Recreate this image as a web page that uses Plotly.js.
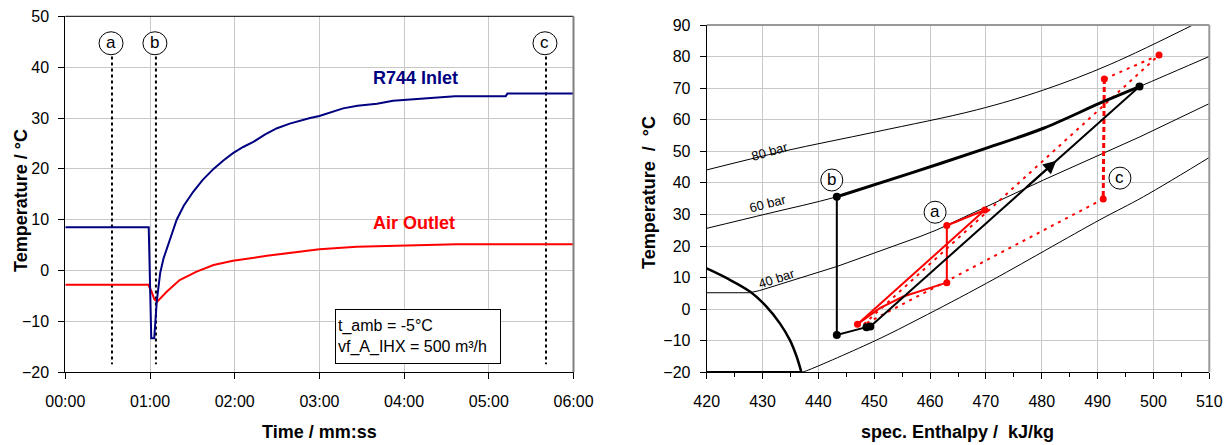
<!DOCTYPE html>
<html><head><meta charset="utf-8">
<script src="https://cdn.plot.ly/plotly-3.0.1.min.js"></script>
<style>html,body{margin:0;padding:0;background:#fff}#chart{width:1231px;height:445px}</style>
</head><body><div id="chart"></div>
<script>
// ---------- Left chart data (time in minutes) ----------
const timeTickVals = [0, 1, 2, 3, 4, 5, 6];
const timeTickText = ['00:00', '01:00', '02:00', '03:00', '04:00', '05:00', '06:00'];
const r744Time = [0, 0.985, 1.015, 1.05, 1.08, 1.12, 1.16, 1.2, 1.25, 1.315, 1.4, 1.51, 1.62, 1.75, 1.87, 1.98, 2.1, 2.22, 2.36, 2.5, 2.65, 2.77, 2.89, 3.0, 3.14, 3.28, 3.45, 3.68, 3.87, 4.05, 4.27, 4.45, 4.6, 5.2, 5.22, 6.0];
const r744Temp = [8.5, 8.5, -13.3, -13.3, -6.0, -0.5, 2.4, 4.4, 7.0, 10.0, 12.8, 15.5, 17.8, 20.0, 21.7, 23.1, 24.3, 25.3, 26.8, 28.0, 28.9, 29.5, 30.0, 30.4, 31.2, 31.9, 32.4, 32.8, 33.4, 33.6, 33.9, 34.1, 34.3, 34.3, 34.8, 34.8];
const airTime = [0, 0.98, 1.02, 1.05, 1.085, 1.2, 1.35, 1.55, 1.75, 1.98, 2.38, 2.77, 3.0, 3.44, 3.99, 4.62, 6.0];
const airTemp = [-2.8, -2.8, -4.2, -5.6, -6.1, -4.1, -1.85, -0.2, 1.1, 1.95, 2.9, 3.7, 4.2, 4.7, 5.0, 5.2, 5.2];
const stateTimes = [0.551, 1.07, 5.675];
const stateLineTop = 42.1;
const stateLineBottom = -18.4;
const stateLabelsLeft = ['a', 'b', 'c'];
const stateLabelTimes = [0.54, 1.058, 5.663];
const stateLabelTemp = 44.7;
const infoText = 't_amb = -5°C<br>vf_A_IHX = 500 m³/h';

// ---------- Right chart data (enthalpy kJ/kg, temperature °C) ----------
const isobar80H = [420, 433.7, 450.4, 468.3, 480.3, 492.2, 508.3];
const isobar80T = [44.1, 50.0, 56.2, 63.1, 69.4, 77.5, 91.1];
const isobar60H = [420, 431, 443.3, 456.4, 470.1, 480.3, 491.0, 497.5, 510.6];
const isobar60T = [25.6, 30.3, 35.6, 43.0, 51.0, 57.3, 65.7, 70.5, 80.5];
const isobar40H = [420, 427.7, 429.5, 443.3, 458.2, 461.2, 480.3, 490.4, 497.6, 510.7];
const isobar40T = [5.2, 5.2, 5.9, 13.5, 23.0, 25.1, 40.9, 48.8, 54.6, 65.7];
const isobarLowH = [437.0, 437.9, 450.4, 458.2, 470.1, 490.4, 498.2, 510.7];
const isobarLowT = [-20.0, -19.5, -9.8, -2.9, 8.2, 28.3, 35.6, 48.8];
const domeH = [420, 423.6, 427.8, 430.7, 433.1, 434.9, 436.1, 437.0];
const domeT = [12.9, 9.8, 5.5, 0.8, -4.5, -9.8, -15.0, -20.3];
const evapLineH = [420, 437.0];
const evapLineT = [-20, -20];
const isobarLabels = ['80 bar', '60 bar', '40 bar'];
const isobarLabelH = [431.3, 431.0, 432.5];
const isobarLabelT = [50.0, 33.6, 9.6];
const isobarLabelAngle = [-16, -14, -18];

// black cycle (state b)
const gcH = [443.3, 456.4, 470.1, 480.3, 491.0, 497.5];
const gcT = [35.6, 43.0, 51.0, 57.3, 65.7, 70.5];
const expH = [443.3, 443.3, 448.6, 449.3];
const expT = [35.6, -8.2, -5.7, -5.5];
const compH = [449.3, 497.5];
const compT = [-5.5, 70.5];
const blackPtsH = [443.3, 443.3, 448.6, 449.3, 497.5];
const blackPtsT = [35.6, -8.2, -5.7, -5.5, 70.5];
const arrowTip = [482.6, 47.0];
const arrowTail = [477.0, 38.2];

// red cycle (state a, solid)
const cycleAH = [447.0, 469.8, 463.0, 463.0, 455.2, 451.0, 447.0];
const cycleAT = [-4.8, 31.4, 26.5, 8.4, 4.0, 0.3, -4.8];
const cycleAPtsH = [447.0, 469.8, 463.0, 463.0];
const cycleAPtsT = [-4.8, 31.4, 26.5, 8.4];

// red cycle (state c, dotted)
const cycleCH = [491.0, 448.0, 501.0, 491.2];
const cycleCT = [34.9, -5.0, 80.5, 72.9];
const cycleCVertH = [491.2, 491.0];
const cycleCVertT = [72.9, 34.9];
const cycleCPtsH = [491.2, 501.0, 491.0];
const cycleCPtsT = [72.9, 80.5, 34.9];

const stateLabelsRight = ['b', 'a', 'c'];
const stateLabelH = [442.4, 460.9, 494.0];
const stateLabelT = [40.9, 30.7, 41.5];

// ---------- build ----------
const FONT = 'Liberation Sans, Arial, sans-serif';
const NAVY = '#000080';
const RED = '#ff0000';

const stateX = [], stateY = [];
stateTimes.forEach(t => { stateX.push(t, t, null); stateY.push(stateLineTop, stateLineBottom, null); });

const traces = [
  {x: stateX, y: stateY, xaxis: 'x', yaxis: 'y', mode: 'lines', line: {color: '#000', width: 2, dash: 'dot'}, hoverinfo: 'skip'},
  {x: airTime, y: airTemp, xaxis: 'x', yaxis: 'y', mode: 'lines', name: 'Air Outlet', line: {color: RED, width: 2}},
  {x: r744Time, y: r744Temp, xaxis: 'x', yaxis: 'y', mode: 'lines', name: 'R744 Inlet', line: {color: NAVY, width: 2}},

  {x: isobar80H, y: isobar80T, xaxis: 'x2', yaxis: 'y2', mode: 'lines', line: {color: '#000', width: 1, shape: 'spline'}},
  {x: isobar60H, y: isobar60T, xaxis: 'x2', yaxis: 'y2', mode: 'lines', line: {color: '#000', width: 1, shape: 'spline'}},
  {x: isobar40H, y: isobar40T, xaxis: 'x2', yaxis: 'y2', mode: 'lines', line: {color: '#000', width: 1}},
  {x: isobarLowH, y: isobarLowT, xaxis: 'x2', yaxis: 'y2', mode: 'lines', line: {color: '#000', width: 1, shape: 'spline'}},
  {x: domeH, y: domeT, xaxis: 'x2', yaxis: 'y2', mode: 'lines', line: {color: '#000', width: 2.5, shape: 'spline'}},
  {x: evapLineH, y: evapLineT, xaxis: 'x2', yaxis: 'y2', mode: 'lines', line: {color: '#000', width: 2.5}},

  {x: cycleCH, y: cycleCT, xaxis: 'x2', yaxis: 'y2', mode: 'lines', line: {color: RED, width: 2, dash: '3px,5px'}},
  {x: cycleCVertH, y: cycleCVertT, xaxis: 'x2', yaxis: 'y2', mode: 'lines', line: {color: RED, width: 3, dash: '5px,3px'}},
  {x: cycleCPtsH, y: cycleCPtsT, xaxis: 'x2', yaxis: 'y2', mode: 'markers', marker: {color: RED, size: 7}},
  {x: cycleAH, y: cycleAT, xaxis: 'x2', yaxis: 'y2', mode: 'lines', line: {color: RED, width: 2}},
  {x: cycleAPtsH, y: cycleAPtsT, xaxis: 'x2', yaxis: 'y2', mode: 'markers', marker: {color: RED, size: 7}},

  {x: gcH, y: gcT, xaxis: 'x2', yaxis: 'y2', mode: 'lines', line: {color: '#000', width: 3, shape: 'spline'}},
  {x: expH, y: expT, xaxis: 'x2', yaxis: 'y2', mode: 'lines', line: {color: '#000', width: 2}},
  {x: compH, y: compT, xaxis: 'x2', yaxis: 'y2', mode: 'lines', line: {color: '#000', width: 2}},
  {x: blackPtsH, y: blackPtsT, xaxis: 'x2', yaxis: 'y2', mode: 'markers', marker: {color: '#000', size: 8}}
];

const shapes = [];
const annotations = [];

// circles with letters, left chart
stateLabelsLeft.forEach((s, i) => {
  shapes.push({type: 'circle', xref: 'x', yref: 'y', xsizemode: 'pixel', ysizemode: 'pixel',
    xanchor: stateLabelTimes[i], yanchor: stateLabelTemp, x0: -12, x1: 12, y0: -11.5, y1: 11.5,
    line: {color: '#000', width: 1}, fillcolor: '#fff'});
  annotations.push({xref: 'x', yref: 'y', x: stateLabelTimes[i], y: stateLabelTemp, text: s, showarrow: false,
    xanchor: 'center', yanchor: 'middle', font: {family: FONT, size: 17, color: '#000'}, yshift: 1});
});
stateLabelsRight.forEach((s, i) => {
  shapes.push({type: 'circle', xref: 'x2', yref: 'y2', xsizemode: 'pixel', ysizemode: 'pixel',
    xanchor: stateLabelH[i], yanchor: stateLabelT[i], x0: -11, x1: 11, y0: -11, y1: 11,
    line: {color: '#000', width: 1}, fillcolor: '#fff'});
  annotations.push({xref: 'x2', yref: 'y2', x: stateLabelH[i], y: stateLabelT[i], text: s, showarrow: false,
    xanchor: 'center', yanchor: 'middle', font: {family: FONT, size: 17, color: '#000'}, yshift: 1});
});
isobarLabels.forEach((s, i) => {
  annotations.push({xref: 'x2', yref: 'y2', x: isobarLabelH[i], y: isobarLabelT[i], text: s, showarrow: false,
    xanchor: 'center', yanchor: 'middle', textangle: isobarLabelAngle[i], font: {family: FONT, size: 13, color: '#000'}});
});

// borders (top / right)
shapes.push({type: 'line', xref: 'x domain', yref: 'y domain', x0: 0, x1: 1, y0: 1, y1: 1, line: {color: '#000', width: 1}});
shapes.push({type: 'line', xref: 'x domain', yref: 'y domain', x0: 1, x1: 1, y0: 0, y1: 1, line: {color: '#808080', width: 2}});
shapes.push({type: 'line', xref: 'x2 domain', yref: 'y2 domain', x0: 0, x1: 1, y0: 1, y1: 1, line: {color: '#999', width: 2}});
shapes.push({type: 'line', xref: 'x2 domain', yref: 'y2 domain', x0: 1, x1: 1, y0: 0, y1: 1, line: {color: '#999', width: 2}});

annotations.push(
  {xref: 'x', yref: 'y', x: 4.14, y: 37.9, text: '<b>R744 Inlet</b>', showarrow: false, xanchor: 'center', yanchor: 'middle',
    font: {family: FONT, size: 18, color: NAVY}},
  {xref: 'x', yref: 'y', x: 4.117, y: 9.3, text: '<b>Air Outlet</b>', showarrow: false, xanchor: 'center', yanchor: 'middle',
    font: {family: FONT, size: 18, color: RED}},
  {xref: 'x', yref: 'y', x: 4.168, y: -12.96, text: infoText, showarrow: false, align: 'left', xanchor: 'center', yanchor: 'middle',
    width: 160, height: 49, bordercolor: '#000', borderwidth: 1, borderpad: 2, bgcolor: '#fff',
    font: {family: FONT, size: 16, color: '#000'}},
  {xref: 'x2', yref: 'y2', axref: 'x2', ayref: 'y2', x: arrowTip[0], y: arrowTip[1], ax: arrowTail[0], ay: arrowTail[1],
    text: '', showarrow: true, arrowhead: 2, arrowsize: 1.3, arrowwidth: 2, arrowcolor: '#000'},
  // axis titles
  {xref: 'paper', yref: 'paper', x: 319 / 1231, y: 1 - 432 / 445, xanchor: 'center', yanchor: 'middle',
    text: '<b>Time / mm:ss</b>', showarrow: false, font: {family: FONT, size: 18, color: '#000'}},
  {xref: 'paper', yref: 'paper', x: 21 / 1231, y: 1 - 201 / 445, xanchor: 'center', yanchor: 'middle',
    text: '<b>Temperature / °C</b>', showarrow: false, textangle: -90, font: {family: FONT, size: 18, color: '#000'}},
  {xref: 'paper', yref: 'paper', x: 957.5 / 1231, y: 1 - 432 / 445, xanchor: 'center', yanchor: 'middle',
    text: '<b>spec. Enthalpy /&nbsp; kJ/kg</b>', showarrow: false, font: {family: FONT, size: 18, color: '#000'}},
  {xref: 'paper', yref: 'paper', x: 649 / 1231, y: 1 - 193 / 445, xanchor: 'center', yanchor: 'middle',
    text: '<b>Temperature&nbsp; /&nbsp; °C</b>', showarrow: false, textangle: -90, font: {family: FONT, size: 18, color: '#000'}}
);

const tickFont = {family: FONT, size: 16, color: '#000'};
const GRID = '#c8c8c8';
const layout = {
  width: 1231, height: 445,
  margin: {l: 0, r: 0, t: 0, b: 0},
  paper_bgcolor: '#fff', plot_bgcolor: '#fff',
  showlegend: false,
  font: {family: FONT},
  xaxis: {domain: [65.3 / 1231, 573.5 / 1231], range: [0, 6], tickvals: timeTickVals, ticktext: timeTickText,
    showgrid: true, gridcolor: GRID, zeroline: false, showline: true, linecolor: '#000', linewidth: 1,
    ticks: 'outside', ticklen: 6, tickcolor: '#000', tickfont: tickFont, ticklabelstandoff: 8, fixedrange: true},
  yaxis: {domain: [1 - 372.3 / 445, 1 - 16.3 / 445], range: [-20, 50], dtick: 10, tick0: 0, anchor: 'x',
    showgrid: true, gridcolor: GRID, zeroline: false, showline: true, linecolor: '#000', linewidth: 1,
    ticks: 'outside', ticklen: 6, tickcolor: '#000', tickfont: tickFont, ticklabelstandoff: 6, fixedrange: true},
  xaxis2: {domain: [706.7 / 1231, 1209.3 / 1231], range: [420, 510], dtick: 10, tick0: 420, anchor: 'y2',
    showgrid: true, gridcolor: GRID, zeroline: false, showline: true, linecolor: '#000', linewidth: 1,
    ticks: 'outside', ticklen: 6, tickcolor: '#000', tickfont: tickFont, ticklabelstandoff: 8,
    minor: {dtick: 5, ticks: 'outside', ticklen: 4, tickcolor: '#000', showgrid: false}, fixedrange: true},
  yaxis2: {domain: [1 - 372.3 / 445, 1 - 25 / 445], range: [-20, 90], dtick: 10, tick0: 0, anchor: 'x2',
    showgrid: true, gridcolor: GRID, zeroline: false, showline: true, linecolor: '#000', linewidth: 1,
    ticks: 'outside', ticklen: 6, tickcolor: '#000', tickfont: tickFont, ticklabelstandoff: 6, fixedrange: true},
  shapes: shapes,
  annotations: annotations
};

Plotly.newPlot('chart', traces, layout, {staticPlot: true, displayModeBar: false});
</script>
</body></html>
